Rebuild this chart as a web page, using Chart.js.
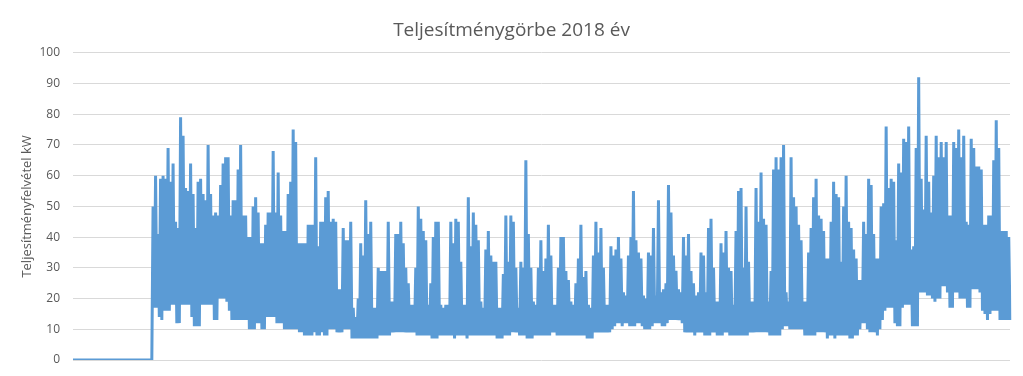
<!DOCTYPE html>
<html lang="hu">
<head>
<meta charset="utf-8">
<title>Teljesítménygörbe 2018 év</title>
<script src="https://cdn.jsdelivr.net/npm/chart.js@4.4.1/dist/chart.umd.min.js"></script>
<style>
  html, body { margin: 0; padding: 0; background: #ffffff; }
</style>
</head>
<body>
<canvas id="load-chart" width="1023" height="376"></canvas>
<script>
// ===== DATA =====
const chartTitle = 'Teljesítménygörbe 2018 év';
const yAxisTitle = 'Teljesítményfelvétel kW';
const yTicks = [0, 10, 20, 30, 40, 50, 60, 70, 80, 90, 100];

// January: meter not yet recording, flat 0 kW
const januaryValues = [
  0, 0, 0, 0, 0, 0, 0, 0, 0, 0, 0, 0, 0, 0, 0, 0,
  0, 0, 0, 0, 0, 0, 0, 0, 0, 0, 0, 0, 0, 0, 0, 0
];

// Feb - Dec: daily peak load (kW)
const peakValues = [
  50, 60, 41, 59, 60, 59, 69, 58, 64, 45, 43, 79, 73, 56, 55, 64, 54, 43, 58, 59, 54, 52, 70, 54, 47, 48, 47, 57, 64, 66,
  66, 47, 52, 52, 62, 70, 47, 47, 40, 40, 50, 53, 48, 38, 38, 44, 48, 48, 68, 48, 61, 47, 42, 42, 54, 58, 75, 71, 38, 38, 38, 38, 44, 44, 44,
  66, 37, 45, 45, 53, 55, 45, 46, 45, 23, 23, 43, 39, 39, 45, 17, 14, 20, 38, 34, 52, 41, 45, 17, 17, 30, 29, 29, 29, 45, 19, 19, 41, 41, 45,
  38, 30, 25, 18, 18, 30, 50, 46, 42, 39, 18, 25, 40, 45, 45, 18, 17, 18, 18, 45, 38, 46, 45, 32, 18, 18, 53, 37, 48, 44, 39, 19, 17,
  36, 42, 34, 32, 32, 17, 17, 28, 47, 32, 47, 45, 30, 17, 32, 30, 65, 41, 30, 19, 18, 30, 39, 29, 33, 44, 34, 18, 18, 30, 40, 40, 29, 26,
  19, 18, 25, 33, 44, 27, 29, 18, 17, 34, 45, 35, 43, 30, 18, 18, 37, 34, 36, 40, 33, 22, 21, 34, 40, 55, 39, 35, 33, 21, 20, 35, 34, 43,
  21, 52, 22, 23, 25, 57, 48, 34, 29, 23, 22, 40, 34, 41, 29, 25, 21, 22, 35, 34, 22, 43, 46, 30, 19, 19, 38, 35, 42, 30, 29, 18, 42, 55,
  56, 30, 50, 32, 19, 19, 56, 45, 61, 46, 44, 19, 29, 62, 66, 62, 66, 70, 22, 19, 66, 53, 50, 44, 39, 19, 19, 35, 43, 53, 59, 47, 46, 42,
  33, 33, 45, 58, 54, 53, 32, 50, 60, 45, 43, 36, 33, 26, 26, 45, 41, 59, 57, 41, 33, 33, 50, 51, 76, 56, 59, 58, 39, 64, 61, 72, 71, 76,
  36, 37, 69, 92, 59, 49, 73, 58, 48, 60, 73, 66, 71, 66, 71, 47, 47, 71, 69, 75, 66, 73, 45, 44, 72, 69, 63, 63, 62, 44, 44, 47, 47, 65, 78, 69, 42, 42, 42, 40
];

// Feb - Dec: daily base load (kW)
const baseValues = [
  17, 17, 14, 13, 16, 16, 16, 18, 18, 12, 12, 18, 18, 18, 18, 14, 11, 11, 11, 18, 18, 18, 18, 18, 13, 13, 20, 20, 20, 19,
  16, 13, 13, 13, 13, 13, 13, 13, 10, 10, 10, 12, 12, 10, 10, 14, 14, 14, 14, 12, 12, 12, 10, 10, 10, 10, 10, 10, 9, 9, 8, 8, 8, 8, 9,
  8, 8, 9, 8, 8, 10, 10, 10, 9, 9, 9, 10, 10, 10, 7, 7, 7, 7, 7, 7, 7, 7, 7, 7, 7, 8, 8, 8, 8, 8, 9, 9, 9, 9, 9,
  9, 9, 9, 9, 9, 8, 8, 8, 8, 8, 8, 7, 7, 7, 8, 8, 8, 8, 8, 8, 7, 8, 8, 8, 8, 7, 8, 8, 8, 8, 8, 8, 8,
  8, 8, 8, 8, 7, 7, 7, 8, 8, 8, 9, 9, 9, 8, 8, 8, 7, 7, 7, 8, 8, 8, 8, 8, 8, 8, 9, 9, 8, 8, 8, 8, 8, 8,
  8, 8, 8, 8, 8, 8, 7, 7, 7, 9, 9, 9, 9, 9, 9, 9, 10, 11, 12, 12, 11, 12, 12, 11, 11, 11, 12, 12, 11, 10, 10, 10, 11, 12,
  12, 12, 11, 11, 12, 13, 13, 13, 13, 13, 12, 9, 9, 9, 9, 8, 9, 9, 9, 8, 8, 8, 9, 9, 8, 8, 8, 9, 9, 8, 8, 8, 8, 8,
  8, 8, 8, 9, 9, 9, 9, 9, 9, 9, 9, 8, 8, 8, 8, 8, 10, 11, 11, 10, 10, 10, 10, 10, 10, 8, 8, 8, 8, 8, 9, 9, 9, 9,
  7, 8, 8, 7, 8, 8, 8, 8, 8, 7, 7, 8, 8, 10, 12, 12, 10, 9, 9, 9, 8, 10, 13, 16, 17, 17, 17, 12, 11, 11, 17, 18, 18, 18,
  11, 11, 11, 22, 22, 22, 21, 21, 20, 19, 20, 20, 24, 24, 22, 17, 17, 22, 22, 20, 20, 20, 17, 17, 23, 23, 23, 22, 16, 15, 13, 15, 16, 16, 16, 13, 13, 13, 13, 13
];

// ===== STYLE =====
const FONT = "'Open Sans', 'Noto Sans', sans-serif";
const TEXT_COLOR = '#595959';
const GRID_COLOR = '#d9d9d9';
const LINE_COLOR = '#5b9bd5';

// Each day is drawn as a peak reading followed by a base reading
const loadSeries = [];
januaryValues.forEach(v => loadSeries.push(v, v));
peakValues.forEach((peak, i) => loadSeries.push(peak, baseValues[i]));
const labels = loadSeries.map(() => '');

const ctx = document.getElementById('load-chart');

new Chart(ctx, {
  type: 'line',
  data: {
    labels: labels,
    datasets: [{
      label: yAxisTitle,
      data: loadSeries,
      borderColor: LINE_COLOR,
      backgroundColor: LINE_COLOR,
      borderWidth: 3,
      pointRadius: 0,
      tension: 0,
      fill: false
    }]
  },
  options: {
    responsive: false,
    animation: false,
    // symmetric side padding keeps the title centred on the canvas
    layout: { padding: { left: 13, right: 13, top: 0, bottom: 16 } },
    plugins: {
      legend: { display: false },
      tooltip: { enabled: false },
      title: {
        display: true,
        text: chartTitle,
        color: TEXT_COLOR,
        font: { family: FONT, size: 19, weight: 'normal' },
        padding: { top: 19, bottom: 11 }
      }
    },
    scales: {
      x: {
        display: false
      },
      y: {
        min: yTicks[0],
        max: yTicks[yTicks.length - 1],
        afterBuildTicks: (scale) => {
          scale.ticks = yTicks.map(v => ({ value: v }));
        },
        afterFit: (scale) => {
          // fixed axis width; tick labels may overflow into the outer padding
          scale.width = 60;
          scale.paddingTop = 0;
          scale.paddingBottom = 0;
        },
        grid: { color: GRID_COLOR, lineWidth: 1, drawTicks: false },
        border: { display: false },
        ticks: {
          color: TEXT_COLOR,
          padding: 13,
          font: { family: FONT, size: 12 }
        },
        title: {
          display: true,
          text: yAxisTitle,
          color: TEXT_COLOR,
          font: { family: FONT, size: 13 },
          padding: { top: 6, bottom: 0 }
        }
      }
    }
  }
});
</script>
</body>
</html>
